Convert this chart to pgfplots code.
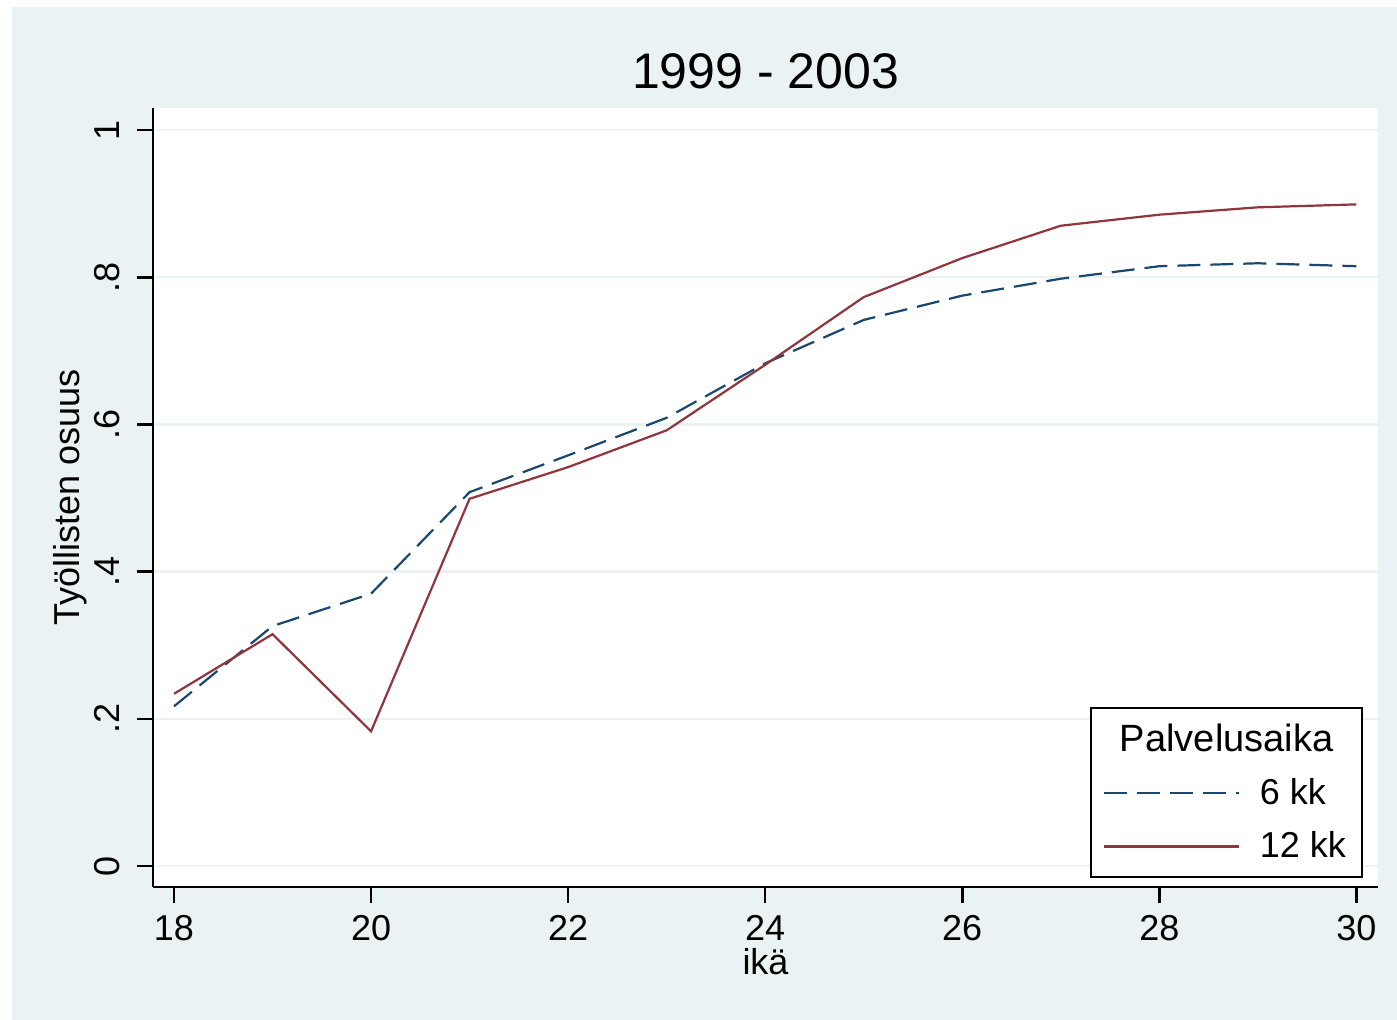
\documentclass[border=0pt]{standalone}
\usepackage{fontspec}
\setmainfont{Liberation Sans}
\usepackage{pgfplots}
\pgfplotsset{compat=1.18}
\definecolor{statabg}{RGB}{234,242,243}
\definecolor{statanavy}{RGB}{26,71,111}
\definecolor{statamaroon}{RGB}{144,53,59}

\begin{document}
\begin{tikzpicture}
\useasboundingbox (0,0) rectangle (698.5pt,510pt);
\fill[white] (0,0) rectangle (698.5pt,510pt);
\fill[statabg] (6pt,0pt) rectangle (698.5pt,506.5pt);
\begin{axis}[
    at={(76.5pt,66.5pt)}, anchor=south west,
    scale only axis, width=612.5pt, height=389.5pt,
    axis background/.style={fill=white},
    axis x line*=bottom, axis y line*=left,
    axis line style={line width=1.3pt, black, -},
    xmin=17.787, xmax=30.22, ymin=-0.0285, ymax=1.030,
    xtick={18,20,...,30},
    ytick={0,0.2,0.4,0.6,0.8,1},
    yticklabels={0,.2,.4,.6,.8,1},
    tick align=outside, major tick length=8pt,
    tick style={line width=1.3pt, black},
    ymajorgrids, grid style={statabg, line width=1.2pt},
    /pgf/number format/assume math mode=true,
    tick label style={font=\fontsize{18}{20}\selectfont},
    yticklabel style={xshift=-8.5pt, rotate=90, anchor=south, inner sep=0pt},
    xticklabel style={anchor=north, inner sep=0pt, yshift=-6pt},
    title={1999 - 2003},
    title style={font=\fontsize{25}{28}\selectfont, at={(0.5,1)}, anchor=center, yshift=12.5pt},
    xlabel={ikä},
    xlabel style={font=\fontsize{18}{20}\selectfont, at={(0.5,0)}, anchor=center, yshift=-37.5pt},
    ylabel={Työllisten osuus},
    ylabel style={font=\fontsize{18}{20}\selectfont, at={(axis description cs:-0.0678,0.5)}, anchor=center},
    legend style={at={(1,0)}, anchor=south east, xshift=-7.5pt, yshift=4.5pt,
        draw=black, line width=1pt, fill=white, inner xsep=6pt, inner ysep=6pt,
        font=\fontsize{18}{20}\selectfont, row sep=8pt, column sep=8pt},
    legend cell align=left,
    legend image code/.code={\draw[#1] (0pt,0pt) -- (67.5pt,0pt);},
]
\addlegendimage{empty legend}
\addlegendentry{\makebox[0pt][l]{\hspace*{-70pt}\fontsize{19}{20}\selectfont Palvelusaika}}

\addplot[statanavy, line width=1.1pt, dash pattern=on 11.5pt off 5pt] coordinates {
(18,0.217) (19,0.326) (20,0.370) (21,0.508) (22,0.558) (23,0.609) (24,0.683)
(25,0.742) (26,0.775) (27,0.798) (28,0.815) (29,0.819) (30,0.815)
};
\addlegendentry{6 kk}

\addplot[statamaroon, line width=1.1pt] coordinates {
(18,0.234) (19,0.315) (20,0.183) (21,0.499) (22,0.542) (23,0.592) (24,0.681)
(25,0.773) (26,0.826) (27,0.870) (28,0.885) (29,0.895) (30,0.899)
};
\addlegendentry{12 kk}
\end{axis}
\end{tikzpicture}
\end{document}
